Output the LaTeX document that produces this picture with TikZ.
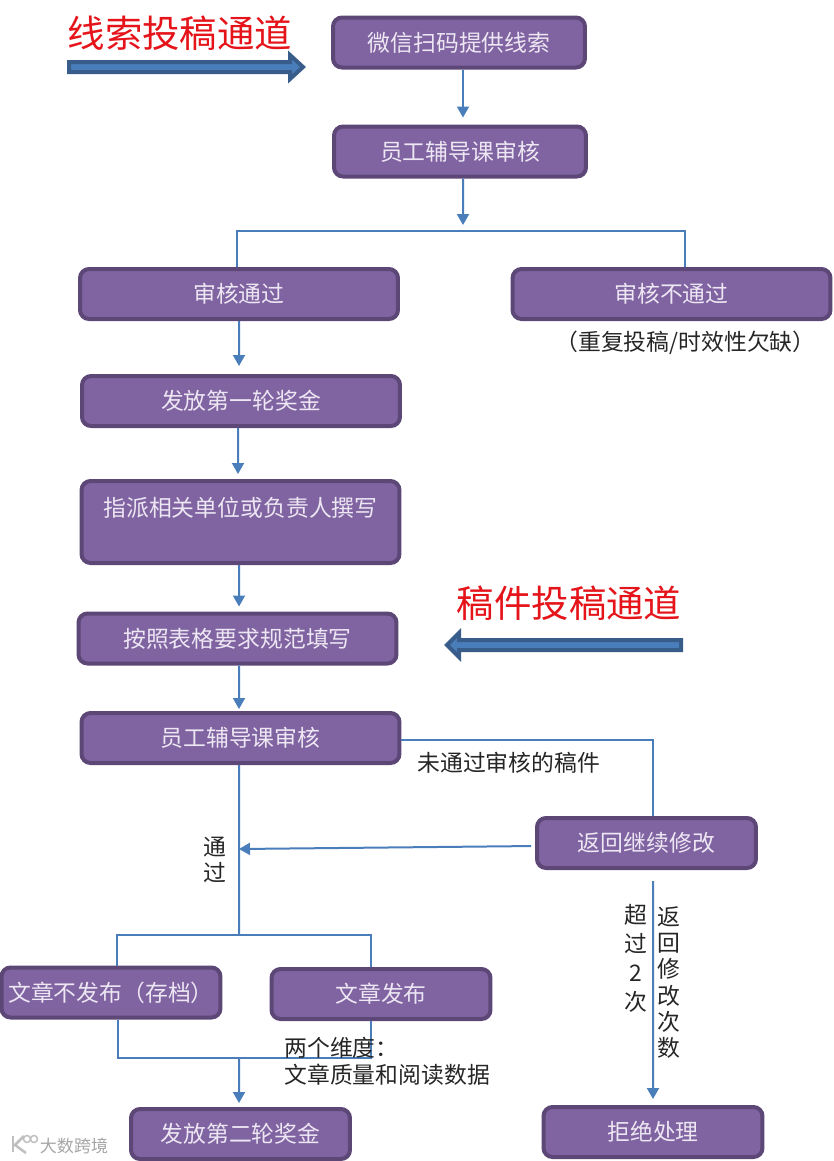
\documentclass[tikz,border=0pt]{standalone}
\usepackage{fontspec}
\setmainfont{Noto Sans CJK SC}
\usetikzlibrary{arrows.meta}
\definecolor{boxfill}{HTML}{8064A2}
\definecolor{boxedge}{HTML}{5C4776}
\definecolor{boxtext}{HTML}{EDE6F3}
\definecolor{linkblue}{HTML}{4A7EBB}
\definecolor{bandedge}{HTML}{385D8A}
\definecolor{titlered}{HTML}{E5141A}
\tikzset{
	purplebox/.style={draw=boxedge, fill=boxfill, line width=0.08cm, rounded corners=0.18cm, inner sep=0,
		text=boxtext, align=center, minimum height=1.0cm, font=\fontsize{13}{17}\selectfont},
	widebox/.style={purplebox, minimum width=6.36cm},
	midbox/.style={purplebox, minimum width=5.04cm},
	smallbox/.style={purplebox, minimum width=4.38cm},
	flowline/.style={draw=linkblue, line width=0.04cm},
	flowarrow/.style={flowline, -{Triangle[length=0.22cm,width=0.24cm]}},
	bandarrow/.style={draw=bandedge, fill=linkblue, line width=0.08cm, miter limit=10},
	redtitle/.style={text=titlered, inner sep=0, font=\fontsize{21.3}{24}\selectfont},
	plainlabel/.style={text=black!85, inner sep=0, font=\fontsize{13}{15}\selectfont, align=center}
}
\begin{document}
\begin{tikzpicture}[x=0.02cm, y=-0.02cm]
		\useasboundingbox (0, 0) rectangle (833, 1161);
		
		%%%%% titles %%%%%
		\node[redtitle] (titleA) at (180, 33) {线索投稿通道};
		\draw[bandarrow] (69, 62) -- (290, 62) -- (290, 55) -- (303, 67) -- (290, 79) -- (290, 72) -- (69, 72) -- cycle;
		\node[redtitle] (titleB) at (569, 603) {稿件投稿通道};
		\draw[bandarrow] (681, 640) -- (459, 640) -- (459, 633) -- (447, 645) -- (459, 657) -- (459, 650) -- (681, 650) -- cycle;
		
		%%%%% boxes %%%%%
		\node[midbox] (scan) at (459, 42.5) {微信扫码提供线索};
		\node[midbox] (checkA) at (460, 151.5) {员工辅导课审核};
		\node[widebox] (pass) at (239, 294) {审核通过};
		\node[widebox] (fail) at (671.5, 294) {审核不通过};
		\node[widebox] (bonusA) at (241, 401) {发放第一轮奖金};
		\node[widebox, minimum height=1.64cm] (assign) at (240.5, 522) {指派相关单位或负责人撰写\\~};
		\node[widebox] (fill) at (237.5, 638.5) {按照表格要求规范填写};
		\node[widebox] (checkB) at (240.5, 738) {员工辅导课审核};
		\node[smallbox] (back) at (646.5, 843) {返回继续修改};
		\node[smallbox] (nopub) at (111, 992.5) {文章不发布（存档）};
		\node[smallbox] (pub) at (381, 994) {文章发布};
		\node[smallbox] (bonusB) at (240.5, 1134) {发放第二轮奖金};
		\node[smallbox] (reject) at (653, 1132) {拒绝处理};
		
		%%%%% junctions %%%%%
		\coordinate (busA) at (463, 231);
		\coordinate (busB) at (239, 935);
		\coordinate (busC) at (239, 1058);
		\coordinate (backIn) at (239, 849);
		
		%%%%% connectors %%%%%
		\draw[flowarrow, shorten >=0.14cm] ([xshift=0.08cm]scan.south) -- ([xshift=0.06cm]checkA.north);
		\draw[flowarrow, shorten >=0.12cm] ([xshift=0.06cm]checkA.south) -- (busA);
		\draw[flowline] ([xshift=-0.04cm]pass.north) |- (busA) -| ([xshift=0.27cm]fail.north);
		\draw[flowarrow, shorten >=0.16cm] (pass.south) -- ([xshift=-0.04cm]bonusA.north);
		\draw[flowarrow, shorten >=0.1cm] ([xshift=-0.06cm]bonusA.south) -- ([xshift=-0.05cm]assign.north);
		\draw[flowarrow, shorten >=0.1cm] ([xshift=-0.03cm]assign.south) -- ([xshift=0.03cm]fill.north);
		\draw[flowarrow, shorten >=0.04cm] ([xshift=0.03cm]fill.south) -- ([xshift=-0.03cm]checkB.north);
		\draw[flowline] ([xshift=-0.03cm]checkB.south) -- (busB);
		\draw[flowline] ([xshift=0.12cm]nopub.north) |- (busB) -| ([xshift=-0.2cm]pub.north);
		\draw[flowline] ([yshift=-0.04cm]checkB.east) -| ([xshift=0.13cm]back.north);
		\draw[flowarrow, shorten <=0.08cm] ([yshift=-0.06cm]back.west) -- (backIn);
		\draw[flowarrow, shorten <=0.22cm, shorten >=0.12cm] ([xshift=0.13cm]back.south) -- (reject.north);
		\draw[flowline] ([xshift=0.14cm]nopub.south) |- (busC) -| ([xshift=-0.2cm]pub.south);
		\draw[flowarrow, shorten >=0.08cm] (busC) -- ([xshift=-0.03cm]bonusB.north);
		
		%%%%% labels %%%%%
		\node[plainlabel, anchor=west] (failNote) at (555, 343) {（重复投稿/时效性欠缺）};
		\node[plainlabel, anchor=west] (backNote) at (417, 763) {未通过审核的稿件};
		\node[plainlabel] (passNote) at (215, 860) {通\\过};
		\node[plainlabel] (overNote) at (636, 958) {超\\[1.5pt]过\\[1.5pt]2\\[1.5pt]次};
		\node[plainlabel] (countNote) at (669, 982.5) {返\\回\\修\\改\\次\\数};
		\node[plainlabel, anchor=west] (dimNote) at (284, 1064) {\begin{tabular}{@{}l@{}}两个维度：\\[0pt]文章质量和阅读数据\end{tabular}};
		
		%%%%% watermark %%%%%
		\draw[black!25, line width=0.06cm] (13, 1136) -- (13, 1152);
		\draw[black!25, line width=0.05cm] (24, 1136) -- (15, 1145) -- (26, 1153);
		\draw[black!25, line width=0.03cm] (27, 1139) circle (3.5);
		\draw[black!25, line width=0.03cm] (34, 1139) circle (3.5);
		\node[inner sep=0, text=black!35, font=\fontsize{9.7}{12}\selectfont] (mark) at (74, 1146) {大数跨境};
	\end{tikzpicture}
\end{document}
